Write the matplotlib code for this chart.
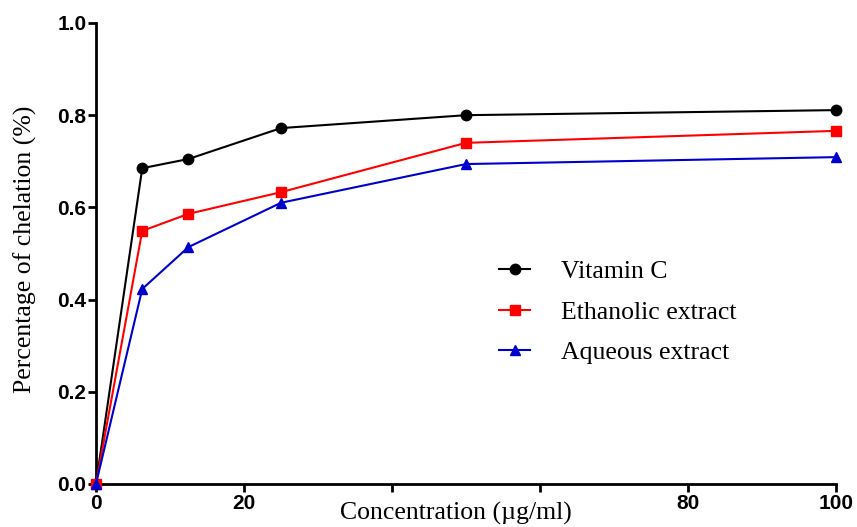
import numpy as np
import matplotlib.pyplot as plt

# data
conc = [0, 6.25, 12.5, 25, 50, 100]
vit_c = [0.0, 0.685, 0.705, 0.772, 0.800, 0.811]
ethanolic = [0.0, 0.549, 0.586, 0.633, 0.740, 0.766]
aqueous = [0.0, 0.423, 0.514, 0.610, 0.694, 0.709]

xticks = [0, 20, 40, 60, 80, 100]
xticklabels = ['0', '20', '', '', '80', '100']
yticks = [0.0, 0.2, 0.4, 0.6, 0.8, 1.0]

fig = plt.figure(figsize=(8.57, 5.27), dpi=100)
ax = fig.add_axes([0.112, 0.0816, 0.8635, 0.8748])

ax.plot(conc, vit_c, '-o', color='black', lw=1.5, ms=7.5, clip_on=False, zorder=3, label='Vitamin C')
ax.plot(conc, ethanolic, '-s', color='red', lw=1.5, ms=7.5, clip_on=False, zorder=3, label='Ethanolic extract')
ax.plot(conc, aqueous, '-^', color='#0000cc', lw=1.5, ms=7.5, clip_on=False, zorder=3, label='Aqueous extract')

ax.set_xlim(0, 100)
ax.set_ylim(0, 1.0)
ax.set_xticks(xticks)
ax.set_xticklabels(xticklabels)
ax.set_yticks(yticks)
ax.set_yticklabels(['%.1f' % v for v in yticks])

for s in ['top', 'right']:
    ax.spines[s].set_visible(False)
for s in ['left', 'bottom']:
    ax.spines[s].set_linewidth(2)

ax.tick_params(direction='out', length=6, width=2, pad=1)
for lab in ax.get_xticklabels() + ax.get_yticklabels():
    lab.set_fontfamily('Liberation Sans')
    lab.set_fontweight('bold')
    lab.set_fontsize(15)

ax.set_xlabel('Concentration (µg/ml)', family='Liberation Serif', fontsize=18.5)
ax.set_ylabel('Percentage of chelation (%)', family='Liberation Serif', fontsize=18.5)
ax.xaxis.set_label_coords(0.486, -0.038)
ax.yaxis.set_label_coords(-0.08, 0.508)

leg = ax.legend(loc='upper left', bbox_to_anchor=(0.514, 0.535), frameon=False,
                prop={'family': 'Liberation Serif', 'size': 18.5},
                handlelength=1.2, labelspacing=0.68, handletextpad=1.2)

fig.savefig('out.png', dpi=100)
